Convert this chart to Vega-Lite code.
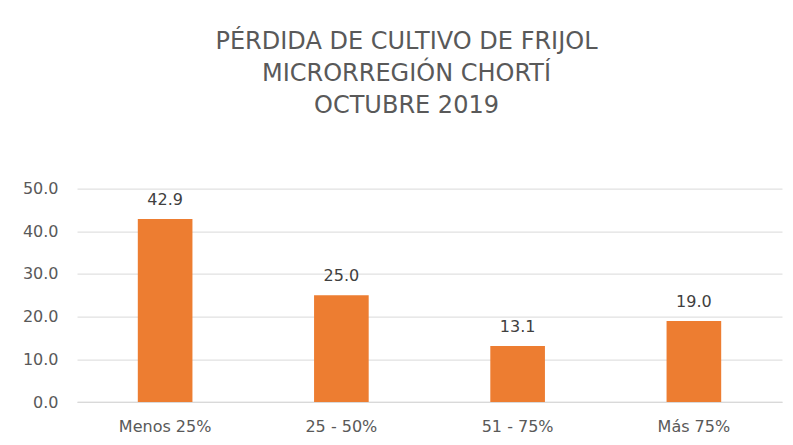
{
  "$schema": "https://vega.github.io/schema/vega-lite/v6.json",
  "autosize": "none",
  "width": 705,
  "height": 213.4,
  "padding": {"left": 77, "top": 188.6, "right": 11, "bottom": 43},
  "background": "white",
  "title": {
    "text": ["PÉRDIDA DE CULTIVO DE FRIJOL", "MICRORREGIÓN CHORTÍ", "OCTUBRE 2019"],
    "font": "DejaVu Sans",
    "fontSize": 24,
    "fontWeight": "normal",
    "color": "#595959",
    "lineHeight": 32,
    "anchor": "middle",
    "frame": "group",
    "dx": -23,
    "offset": 62.5
  },
  "data": {
    "values": [
      {"categoria": "Menos 25%", "valor": 42.9},
      {"categoria": "25 - 50%", "valor": 25.0},
      {"categoria": "51 - 75%", "valor": 13.1},
      {"categoria": "Más 75%", "valor": 19.0}
    ]
  },
  "encoding": {
    "x": {
      "field": "categoria",
      "type": "nominal",
      "sort": null,
      "scale": {"paddingInner": 0.69, "paddingOuter": 0.345},
      "axis": {
        "title": null,
        "labelAngle": 0,
        "ticks": false,
        "domain": true,
        "domainColor": "#d9d9d9",
        "labelFont": "DejaVu Sans",
        "labelFontSize": 16,
        "labelColor": "#595959",
        "labelPadding": 16
      }
    },
    "y": {
      "field": "valor",
      "type": "quantitative",
      "scale": {"domain": [0, 50]},
      "axis": {
        "title": null,
        "values": [0, 10, 20, 30, 40, 50],
        "format": ".1f",
        "ticks": false,
        "domain": false,
        "grid": true,
        "gridColor": "#d9d9d9",
        "gridWidth": 1,
        "labelFont": "DejaVu Sans",
        "labelFontSize": 16,
        "labelColor": "#595959",
        "labelPadding": 19
      }
    }
  },
  "layer": [
    {"mark": {"type": "bar", "color": "#ed7d31"}},
    {
      "mark": {"type": "text", "dy": -19, "font": "DejaVu Sans", "fontSize": 16, "color": "#404040"},
      "encoding": {"text": {"field": "valor", "type": "quantitative", "format": ".1f"}}
    }
  ],
  "config": {"view": {"stroke": null}}
}
